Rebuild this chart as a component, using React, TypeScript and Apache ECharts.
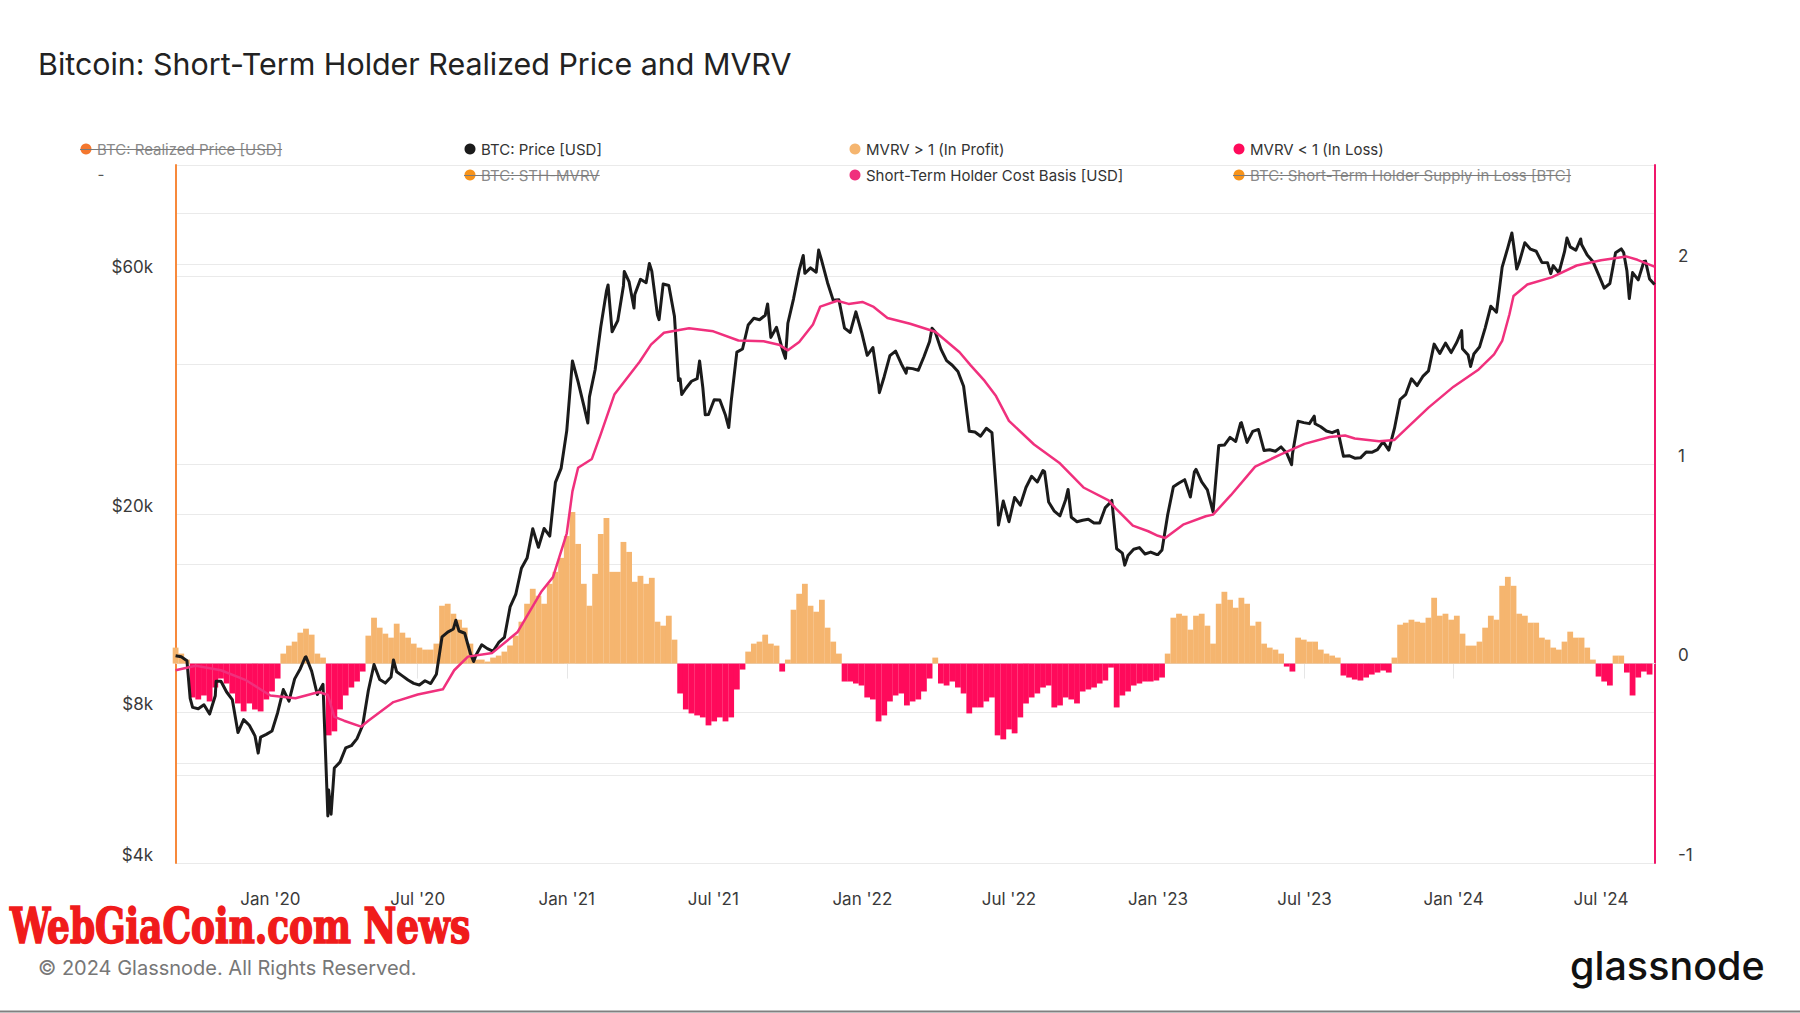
import React, { useEffect, useRef } from 'react';
import * as echarts from 'echarts';

// ---------- DATA ----------
// Weekly (Friday) sample dates start here, one week apart
const WEEK_START = '2019-09-06';

// BTC price [USD], weekly samples
const price2019 = [10400, 10350, 10170, 8200, 8150, 8300, 7950, 8650, 9250, 8800, 8500, 7300, 7750, 7550, 7190, 7150, 7240];
const price2020 = [7350, 8000, 8900, 8440, 9350, 9800, 10350, 9690, 8700, 9120, 5600, 6200, 6370, 6800, 6870, 7100, 7550, 8860, 9990, 9320, 9170, 9430, 9660, 9480, 9300, 9160, 9090, 9270, 9150, 9550, 11350, 11600, 11770, 11660, 11540, 10510, 10440, 10940, 10750, 10620, 11060, 11320, 13030, 13800, 15570, 16320, 18680, 17150, 18710, 18060, 23140, 24680];
const price2021 = [29380, 40520, 36770, 33010, 34320, 38900, 47400, 55890, 46340, 48790, 57330, 58310, 55030, 59030, 58090, 61300, 50050, 57750, 57360, 49710, 37300, 35680, 36890, 37330, 35820, 31640, 33860, 33820, 31530, 33580, 42200, 42800, 47820, 49320, 48980, 49990, 45160, 47300, 42840, 48200, 53950, 61550, 60690, 62210, 61000, 64150, 58120, 53570, 53730, 47120, 46200, 50800, 46300];
const price2022 = [41570, 43100, 36280, 37710, 41500, 42400, 40000, 39200, 39100, 38800, 41300, 44330, 46300, 42780, 40560, 39710, 38600, 36040, 29290, 29200, 28630, 29700, 29100, 20400, 21230, 19300, 21590, 20830, 22600, 23800, 23180, 24440, 21140, 20260, 19830, 21370, 19700, 19300, 19430, 19530, 19180, 19180, 20600, 21150, 17040, 16700, 16520, 17000, 17130, 16630, 16780, 16600];
const price2023 = [16950, 19930, 22680, 23080, 23430, 21630, 24570, 23190, 22360, 20190, 27420, 27480, 28480, 27950, 30480, 27820, 29270, 29540, 26800, 26890, 26720, 27250, 26480, 26340, 30690, 30480, 30340, 30320, 29900, 29320, 29100, 29420, 26100, 26170, 25870, 25910, 26610, 26580, 26910, 27930, 26860, 29670, 33910, 34730, 37310, 36160, 37720, 38690, 43780, 41930, 43980, 42100];
const price2024 = [44160, 42850, 41620, 41820, 43190, 47130, 52140, 50730, 62440, 68300, 69400, 63780, 69890, 67840, 67190, 63820, 63750, 62890, 60790, 67050, 68550, 67490, 69300, 66010, 64100, 60320, 56660, 57890, 66710, 67910, 61410, 60880, 58880, 64100, 59120];

// Daily highs/lows of the price line that the weekly samples miss
const priceExtremes: [string, number][] = [
  ['2019-09-24', 8550], ['2019-10-26', 9250], ['2019-12-17', 6640], ['2020-02-13', 10330], ['2020-03-12', 4970], ['2020-03-16', 5010],
  ['2020-06-01', 10200], ['2020-08-17', 12250], ['2020-09-08', 10130],
  ['2021-01-27', 30430], ['2021-02-21', 57500], ['2021-03-13', 61200], ['2021-03-25', 51700], ['2021-04-13', 63500], ['2021-04-25', 49000],
  ['2021-05-19', 37000], ['2021-05-23', 34700], ['2021-06-14', 40500], ['2021-06-21', 31600], ['2021-07-20', 29800], ['2021-09-06', 52700],
  ['2021-09-28', 41000], ['2021-10-20', 65900], ['2021-11-08', 67550], ['2022-01-22', 35000], ['2022-02-24', 38300], ['2022-03-28', 47100],
  ['2022-06-18', 19000], ['2022-08-14', 24300], ['2022-09-12', 22400], ['2022-11-05', 21300], ['2022-11-21', 15800], ['2023-01-01', 16600],
  ['2023-02-15', 24300], ['2023-04-13', 30400], ['2023-06-15', 25100],
  ['2023-07-13', 31400], ['2024-01-11', 46600], ['2024-01-22', 39500], ['2024-03-13', 73100], ['2024-03-19', 61900], ['2024-04-30', 60600], ['2024-05-20', 71450],
  ['2024-06-06', 71100], ['2024-07-29', 66800], ['2024-08-05', 54000], ['2024-08-25', 64200], ['2024-09-04', 57900],
  ['2024-09-05', 57600],
];

// Short-Term Holder Cost Basis [USD]
const costBasis: [string, number][] = [
  ['2019-09-06', 9726], ['2019-10-01', 9930], ['2019-11-01', 9730], ['2019-12-01', 9310], ['2020-01-01', 8660],
  ['2020-02-01', 8550], ['2020-03-01', 8800], ['2020-03-12', 8680], ['2020-03-20', 7850], ['2020-04-01', 7710],
  ['2020-04-22', 7500], ['2020-05-01', 7710], ['2020-06-01', 8400], ['2020-07-01', 8700], ['2020-08-01', 8910],
  ['2020-08-15', 9730], ['2020-09-01', 10360], ['2020-10-01', 10540], ['2020-11-01', 11590], ['2020-12-01', 14010],
  ['2020-12-15', 14950], ['2021-01-01', 18300], ['2021-01-08', 22200], ['2021-01-15', 24760], ['2021-02-01', 25780],
  ['2021-02-12', 28900], ['2021-03-01', 34750], ['2021-04-01', 40350], ['2021-04-15', 43670], ['2021-05-01', 46130],
  ['2021-06-01', 47090], ['2021-07-01', 46440], ['2021-08-01', 44520], ['2021-09-01', 44380], ['2021-09-20', 43670],
  ['2021-10-01', 42540], ['2021-10-15', 44210], ['2021-11-01', 47940], ['2021-11-10', 52050], ['2021-12-01', 53460],
  ['2021-12-15', 52700], ['2022-01-01', 53170], ['2022-01-15', 51960], ['2022-02-01', 49390], ['2022-03-01', 48100],
  ['2022-04-01', 46360], ['2022-05-01', 42170], ['2022-05-15', 39650], ['2022-06-01', 36950], ['2022-06-15', 34450],
  ['2022-07-01', 30730], ['2022-08-01', 27560], ['2022-09-01', 25340], ['2022-10-01', 22600], ['2022-11-01', 21290],
  ['2022-11-10', 20510], ['2022-12-01', 18950], ['2022-12-20', 18470], ['2023-01-01', 18090], ['2023-01-10', 17910],
  ['2023-02-01', 19040], ['2023-03-01', 19790], ['2023-03-10', 19940], ['2023-04-01', 21810], ['2023-05-01', 24880],
  ['2023-06-01', 26310], ['2023-07-01', 27640], ['2023-08-01', 28530], ['2023-08-20', 28720], ['2023-09-01', 28330],
  ['2023-10-01', 27980], ['2023-10-20', 28140], ['2023-11-01', 29390], ['2023-12-01', 32660], ['2024-01-01', 35980],
  ['2024-02-01', 38950], ['2024-02-20', 41770], ['2024-03-01', 44420], ['2024-03-10', 50250], ['2024-03-15', 54650],
  ['2024-04-01', 57620], ['2024-05-01', 59560], ['2024-06-01', 62910], ['2024-07-01', 64470], ['2024-07-20', 65150],
  ['2024-08-01', 65600], ['2024-08-15', 64580], ['2024-09-05', 62560],
];

// STH-MVRV − 1 bars (weekly), positive = in profit, negative = in loss
const mvrv2019 = [0.08, 0.05, 0.02, -0.17, -0.18, -0.16, -0.19, -0.12, -0.075, -0.10, -0.15, -0.20, -0.24, -0.20, -0.23, -0.24, -0.18];
const mvrv2020 = [-0.14, -0.075, 0.05, 0.09, 0.11, 0.155, 0.175, 0.145, 0.05, 0.03, -0.36, -0.34, -0.23, -0.16, -0.12, -0.09, -0.04, 0.14, 0.23, 0.18, 0.15, 0.13, 0.20, 0.155, 0.13, 0.10, 0.08, 0.07, 0.07, 0.10, 0.29, 0.30, 0.25, 0.22, 0.18, 0.10, 0.02, 0.02, 0.01, 0.03, 0.04, 0.06, 0.09, 0.14, 0.21, 0.30, 0.375, 0.34, 0.30, 0.40, 0.46, 0.53];
const mvrv2021 = [0.64, 0.76, 0.60, 0.40, 0.29, 0.45, 0.65, 0.73, 0.46, 0.46, 0.61, 0.56, 0.41, 0.44, 0.40, 0.43, 0.21, 0.19, 0.24, 0.12, -0.15, -0.23, -0.25, -0.26, -0.27, -0.31, -0.29, -0.27, -0.29, -0.27, -0.13, -0.03, 0.06, 0.10, 0.11, 0.145, 0.10, 0.09, -0.04, 0.02, 0.27, 0.35, 0.40, 0.29, 0.26, 0.32, 0.18, 0.11, 0.05, -0.09, -0.09, -0.10, -0.11];
const mvrv2022 = [-0.17, -0.18, -0.29, -0.26, -0.19, -0.16, -0.15, -0.21, -0.19, -0.18, -0.14, -0.075, 0.03, -0.10, -0.11, -0.09, -0.12, -0.15, -0.25, -0.22, -0.22, -0.19, -0.17, -0.36, -0.38, -0.33, -0.35, -0.27, -0.20, -0.17, -0.15, -0.12, -0.11, -0.22, -0.21, -0.17, -0.18, -0.20, -0.14, -0.13, -0.12, -0.10, -0.085, -0.02, -0.22, -0.16, -0.14, -0.11, -0.10, -0.09, -0.09, -0.085];
const mvrv2023 = [-0.07, 0.05, 0.23, 0.25, 0.24, 0.17, 0.24, 0.25, 0.19, 0.10, 0.30, 0.36, 0.32, 0.28, 0.33, 0.30, 0.19, 0.21, 0.10, 0.08, 0.07, 0.05, -0.015, -0.04, 0.13, 0.12, 0.11, 0.11, 0.07, 0.05, 0.04, 0.03, -0.06, -0.07, -0.08, -0.085, -0.07, -0.055, -0.045, -0.035, -0.045, 0.03, 0.195, 0.205, 0.22, 0.21, 0.205, 0.23, 0.33, 0.24, 0.25, 0.22];
const mvrv2024 = [0.24, 0.15, 0.09, 0.09, 0.11, 0.18, 0.24, 0.22, 0.39, 0.435, 0.39, 0.25, 0.24, 0.205, 0.205, 0.13, 0.12, 0.08, 0.07, 0.11, 0.16, 0.13, 0.13, 0.08, 0.02, -0.065, -0.09, -0.11, 0.04, 0.04, -0.045, -0.16, -0.07, -0.04, -0.055];

// Axis ticks
const xTickDates = ['2020-01-01', '2020-07-01', '2021-01-01', '2021-07-01', '2022-01-01', '2022-07-01', '2023-01-01', '2023-07-01', '2024-01-01', '2024-07-01'];
const leftLabelValues = [4000, 8000, 20000, 60000];
const leftGridValues = [6000, 8000, 20000, 60000, 80000, 100000];
const rightLabelValues = [-1, 0, 1, 2];

// ---------- STYLE ----------
const FONT = 'Inter, "Noto Sans", sans-serif';
const C_PRICE = '#1b1b1b';
const C_COST = '#f0307d';
const C_PROFIT = '#f5b56f';
const C_LOSS = '#ff0a5b';
const C_GRID = '#eaeaea';
const C_TEXT = '#3a3a3a';
const MONTHS = ['Jan', 'Feb', 'Mar', 'Apr', 'May', 'Jun', 'Jul', 'Aug', 'Sep', 'Oct', 'Nov', 'Dec'];
const DAY = 86400000;

function weekly(values: number[], offset: number): [number, number][] {
  const t0 = Date.parse(WEEK_START);
  return values.map((v, i) => [t0 + (offset + i) * 7 * DAY, v]);
}

function textWidth(text: string, font: string): number {
  try {
    const t = new (echarts.graphic as any).Text({ style: { text, font } });
    const w = t.getBoundingRect().width;
    return w > 0 ? w : text.length * 7.5;
  } catch (e) {
    return text.length * 7.5;
  }
}

function buildOption() {
  const priceWeekly = [price2019, price2020, price2021, price2022, price2023, price2024].flat();
  const mvrvWeekly = [mvrv2019, mvrv2020, mvrv2021, mvrv2022, mvrv2023, mvrv2024].flat();
  const priceData = weekly(priceWeekly, 0)
    .concat(priceExtremes.map(([d, v]) => [Date.parse(d), v] as [number, number]))
    .sort((a, b) => a[0] - b[0]);
  const costData = costBasis.map(([d, v]) => [Date.parse(d), v]);
  const barData = weekly(mvrvWeekly, 0);
  const xTicks = xTickDates.map((d) => Date.parse(d));

  const legendFont = `15px ${FONT}`;
  const legendItems = [
    { label: 'BTC: Realized Price [USD]', color: '#f4772e', x: 86, y: 149, off: true },
    { label: 'BTC: Price [USD]', color: C_PRICE, x: 470, y: 149, off: false },
    { label: 'MVRV > 1 (In Profit)', color: C_PROFIT, x: 855, y: 149, off: false },
    { label: 'MVRV < 1 (In Loss)', color: C_LOSS, x: 1239, y: 149, off: false },
    { label: 'BTC: STH-MVRV', color: '#f7931a', x: 470, y: 175, off: true },
    { label: 'Short-Term Holder Cost Basis [USD]', color: C_COST, x: 855, y: 175, off: false },
    { label: 'BTC: Short-Term Holder Supply in Loss [BTC]', color: '#f7931a', x: 1239, y: 175, off: true },
  ];
  const legendGraphics: any[] = [];
  legendItems.forEach((it) => {
    legendGraphics.push({ type: 'circle', shape: { cx: it.x, cy: it.y, r: 5.5 }, style: { fill: it.color }, silent: true });
    legendGraphics.push({
      type: 'text', x: it.x + 11, y: it.y,
      style: { text: it.label, font: legendFont, fill: it.off ? '#8a8a8a' : '#333333', textVerticalAlign: 'middle' },
      silent: true,
    });
    if (it.off) {
      const w = textWidth(it.label, legendFont);
      legendGraphics.push({
        type: 'line', shape: { x1: it.x - 6, y1: it.y + 0.5, x2: it.x + 11 + w, y2: it.y + 0.5 },
        style: { stroke: '#7a7a7a', lineWidth: 1 }, silent: true,
      });
    }
  });

  const wmFont = `bold 48px "DejaVu Serif Condensed", "DejaVu Serif", serif`;
  const wmText = 'WebGiaCoin.com News';
  const wmScale = 460 / textWidth(wmText, wmFont);

  return {
    animation: false,
    backgroundColor: '#ffffff',
    textStyle: { fontFamily: FONT },
    grid: { left: 176, right: 145, top: 165, bottom: 150, containLabel: false },
    xAxis: {
      type: 'value',
      min: Date.UTC(2019, 8, 6, 12),
      max: Date.UTC(2024, 8, 5, 17),
      axisLine: { show: true, lineStyle: { color: '#e2e2e2', width: 1 } },
      axisTick: { show: true, customValues: xTicks, length: 15, lineStyle: { color: '#e6e6e6', width: 1 } },
      axisLabel: {
        customValues: xTicks,
        fontSize: 17,
        color: C_TEXT,
        margin: 27,
        fontFamily: FONT,
        formatter: (v: number) => {
          const d = new Date(v);
          return `${MONTHS[d.getUTCMonth()]} '${String(d.getUTCFullYear()).slice(2)}`;
        },
      },
      splitLine: { show: false },
    },
    yAxis: [
      {
        type: 'log',
        logBase: 10,
        position: 'left',
        min: 4000,
        max: 100000,
        axisLine: { show: true, lineStyle: { color: '#f7893b', width: 2 } },
        axisTick: { show: false, customValues: leftGridValues },
        axisLabel: {
          customValues: leftLabelValues,
          fontSize: 17,
          color: C_TEXT,
          margin: 23,
          verticalAlign: 'bottom',
          fontFamily: FONT,
          formatter: (v: number) => `$${Math.round(v / 1000)}k`,
        },
        splitLine: { show: true, lineStyle: { color: C_GRID, width: 1.2 } },
      },
      {
        type: 'value',
        position: 'right',
        min: -1,
        max: 2.5,
        interval: 0.5,
        axisLine: { show: true, lineStyle: { color: '#f0176b', width: 2 } },
        axisTick: { show: false },
        axisLabel: {
          fontSize: 17,
          color: C_TEXT,
          margin: 23,
          verticalAlign: 'bottom',
          fontFamily: FONT,
          formatter: (v: number) => (rightLabelValues.indexOf(v) >= 0 ? String(v) : ''),
        },
        splitLine: { show: true, lineStyle: { color: C_GRID, width: 1.2 } },
      },
    ],
    series: [
      {
        name: 'MVRV',
        type: 'bar',
        yAxisIndex: 1,
        data: barData,
        barWidth: 5.8,
        itemStyle: { color: (p: any) => (p.value[1] >= 0 ? C_PROFIT : C_LOSS) },
        silent: true,
      },
      {
        name: 'BTC: Price [USD]',
        type: 'line',
        yAxisIndex: 0,
        data: priceData,
        symbol: 'none',
        lineStyle: { color: C_PRICE, width: 3, join: 'round' },
        silent: true,
      },
      {
        name: 'Short-Term Holder Cost Basis [USD]',
        type: 'line',
        yAxisIndex: 0,
        data: costData,
        symbol: 'none',
        lineStyle: { color: C_COST, width: 2.5, join: 'round' },
        silent: true,
      },
    ],
    graphic: [
      {
        type: 'text', x: 38, y: 64,
        style: { text: 'Bitcoin: Short-Term Holder Realized Price and MVRV', font: `400 30.4px ${FONT}`, fill: '#222222', textVerticalAlign: 'middle' },
        silent: true,
      },
      ...legendGraphics,
      {
        type: 'text', x: 101, y: 174,
        style: { text: '-', font: `15px ${FONT}`, fill: '#555555', textAlign: 'center', textVerticalAlign: 'middle' },
        silent: true,
      },
      {
        type: 'text', x: 10, y: 926, scaleX: wmScale,
        style: { text: wmText, font: wmFont, fill: '#f01b1b', stroke: '#f01b1b', lineWidth: 1.6, textVerticalAlign: 'middle' },
        silent: true,
      },
      {
        type: 'text', x: 38, y: 968,
        style: { text: '© 2024 Glassnode. All Rights Reserved.', font: `20px ${FONT}`, fill: '#777777', textVerticalAlign: 'middle' },
        silent: true,
      },
      {
        type: 'text', x: 1570, y: 966,
        style: { text: 'glassnode', font: `500 39.5px ${FONT}`, fill: '#111111', textVerticalAlign: 'middle' },
        silent: true,
      },
      {
        type: 'line', shape: { x1: 0, y1: 1011.5, x2: 1800, y2: 1011.5 },
        style: { stroke: '#808080', lineWidth: 2 },
        silent: true,
      },
    ],
  };
}

export default function App() {
  const ref = useRef<HTMLDivElement>(null);
  useEffect(() => {
    if (!ref.current) return;
    const chart = echarts.init(ref.current, null, { renderer: 'svg' });
    chart.setOption(buildOption() as any);
    return () => chart.dispose();
  }, []);
  return (
    <div
      ref={ref}
      style={{ position: 'absolute', left: 0, top: 0, width: 1800, height: 1013, background: '#ffffff' }}
    />
  );
}
